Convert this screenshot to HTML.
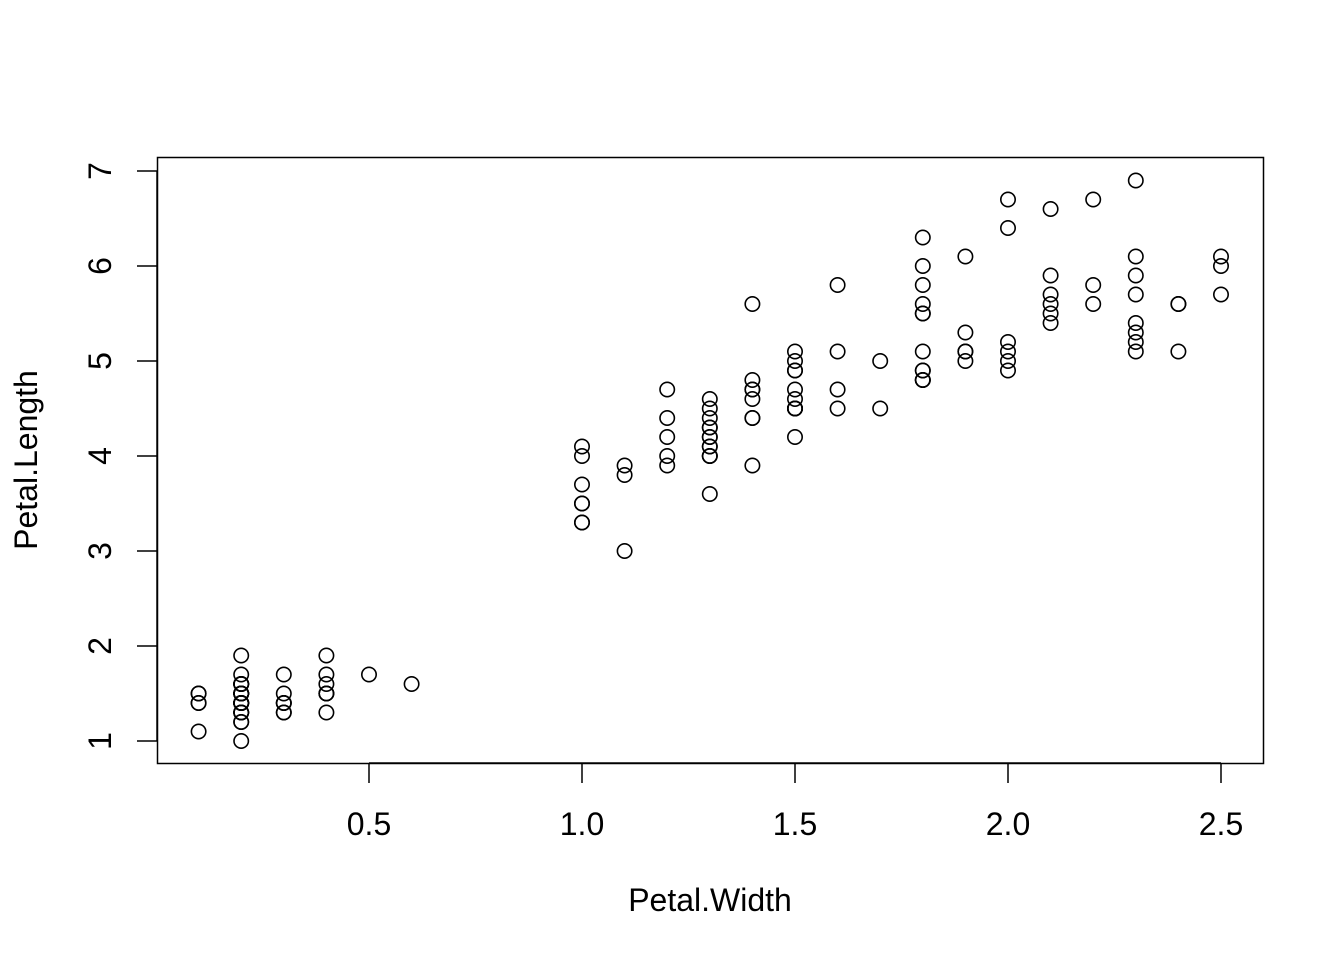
<!DOCTYPE html>
<html><head><style>html,body{margin:0;padding:0;background:#fff;}svg{display:block}</style></head>
<body>
<svg id="s" width="1344" height="960" xmlns="http://www.w3.org/2000/svg" font-family="Liberation Sans, Arial, sans-serif">
<rect x="0" y="0" width="1344" height="960" fill="#fff"/>
<rect x="157.5" y="157.5" width="1106" height="606" fill="none" stroke="#000" stroke-width="1.5"/>
<g stroke="#000" stroke-width="1.5">
<line x1="369" y1="763" x2="1221" y2="763"/>
<line x1="369" y1="763" x2="369" y2="783"/>
<line x1="582" y1="763" x2="582" y2="783"/>
<line x1="795" y1="763" x2="795" y2="783"/>
<line x1="1008" y1="763" x2="1008" y2="783"/>
<line x1="1221" y1="763" x2="1221" y2="783"/>
<line x1="157" y1="171" x2="157" y2="741"/>
<line x1="137" y1="171" x2="157" y2="171"/>
<line x1="137" y1="266" x2="157" y2="266"/>
<line x1="137" y1="361" x2="157" y2="361"/>
<line x1="137" y1="456" x2="157" y2="456"/>
<line x1="137" y1="551" x2="157" y2="551"/>
<line x1="137" y1="646" x2="157" y2="646"/>
<line x1="137" y1="741" x2="157" y2="741"/>
</g>
<g font-size="32" text-anchor="middle" fill="#000">
<text x="369" y="835">0.5</text>
<text x="582" y="835">1.0</text>
<text x="795" y="835">1.5</text>
<text x="1008" y="835">2.0</text>
<text x="1221" y="835">2.5</text>
<text transform="translate(111,171) rotate(-90)">7</text>
<text transform="translate(111,266) rotate(-90)">6</text>
<text transform="translate(111,361) rotate(-90)">5</text>
<text transform="translate(111,456) rotate(-90)">4</text>
<text transform="translate(111,551) rotate(-90)">3</text>
<text transform="translate(111,646) rotate(-90)">2</text>
<text transform="translate(111,741) rotate(-90)">1</text>
<text x="710" y="911">Petal.Width</text>
<text transform="translate(37,460) rotate(-90)">Petal.Length</text>
</g>
<g id="pts" fill="none" stroke="#000" stroke-width="1.6"></g>
</svg>
<script>
var d=[[1.4,.2],[1.4,.2],[1.3,.2],[1.5,.2],[1.4,.2],[1.7,.4],[1.4,.3],[1.5,.2],[1.4,.2],[1.5,.1],[1.5,.2],[1.6,.2],[1.4,.1],[1.1,.1],[1.2,.2],[1.5,.4],[1.3,.4],[1.4,.3],[1.7,.3],[1.5,.3],[1.7,.2],[1.5,.4],[1.0,.2],[1.7,.5],[1.9,.2],[1.6,.2],[1.6,.4],[1.5,.2],[1.4,.2],[1.6,.2],[1.6,.2],[1.5,.4],[1.5,.1],[1.4,.2],[1.5,.2],[1.2,.2],[1.3,.2],[1.4,.1],[1.3,.2],[1.5,.2],[1.3,.3],[1.3,.3],[1.3,.2],[1.6,.6],[1.9,.4],[1.4,.3],[1.6,.2],[1.4,.2],[1.5,.2],[1.4,.2],
[4.7,1.4],[4.5,1.5],[4.9,1.5],[4.0,1.3],[4.6,1.5],[4.5,1.3],[4.7,1.6],[3.3,1.0],[4.6,1.3],[3.9,1.4],[3.5,1.0],[4.2,1.5],[4.0,1.0],[4.7,1.4],[3.6,1.3],[4.4,1.4],[4.5,1.5],[4.1,1.0],[4.5,1.5],[3.9,1.1],[4.8,1.8],[4.0,1.3],[4.9,1.5],[4.7,1.2],[4.3,1.3],[4.4,1.4],[4.8,1.4],[5.0,1.7],[4.5,1.5],[3.5,1.0],[3.8,1.1],[3.7,1.0],[3.9,1.2],[5.1,1.6],[4.5,1.5],[4.5,1.6],[4.7,1.5],[4.4,1.3],[4.1,1.3],[4.0,1.3],[4.4,1.2],[4.6,1.4],[4.0,1.2],[3.3,1.0],[4.2,1.3],[4.2,1.2],[4.2,1.3],[4.3,1.3],[3.0,1.1],[4.1,1.3],
[6.0,2.5],[5.1,1.9],[5.9,2.1],[5.6,1.8],[5.8,2.2],[6.6,2.1],[4.5,1.7],[6.3,1.8],[5.8,1.8],[6.1,2.5],[5.1,2.0],[5.3,1.9],[5.5,2.1],[5.0,2.0],[5.1,2.4],[5.3,2.3],[5.5,1.8],[6.7,2.2],[6.9,2.3],[5.0,1.5],[5.7,2.3],[4.9,2.0],[6.7,2.0],[4.9,1.8],[5.7,2.1],[6.0,1.8],[4.8,1.8],[4.9,1.8],[5.6,2.1],[5.8,1.6],[6.1,1.9],[6.4,2.0],[5.6,2.2],[5.1,1.5],[5.6,1.4],[6.1,2.3],[5.6,2.4],[5.5,1.8],[4.8,1.8],[5.4,2.1],[5.6,2.4],[5.1,2.3],[5.1,1.9],[5.9,2.3],[5.7,2.5],[5.2,2.3],[5.0,1.9],[5.2,2.0],[5.4,2.3],[5.1,1.8]];
var g=document.getElementById('pts'),h='';
d.forEach(function(p){var x=369+(p[1]-0.5)*426,y=741-(p[0]-1)*95;h+='<circle cx="'+x.toFixed(1)+'" cy="'+y.toFixed(1)+'" r="7.2"/>';});
g.innerHTML=h;
</script>
</body></html>
